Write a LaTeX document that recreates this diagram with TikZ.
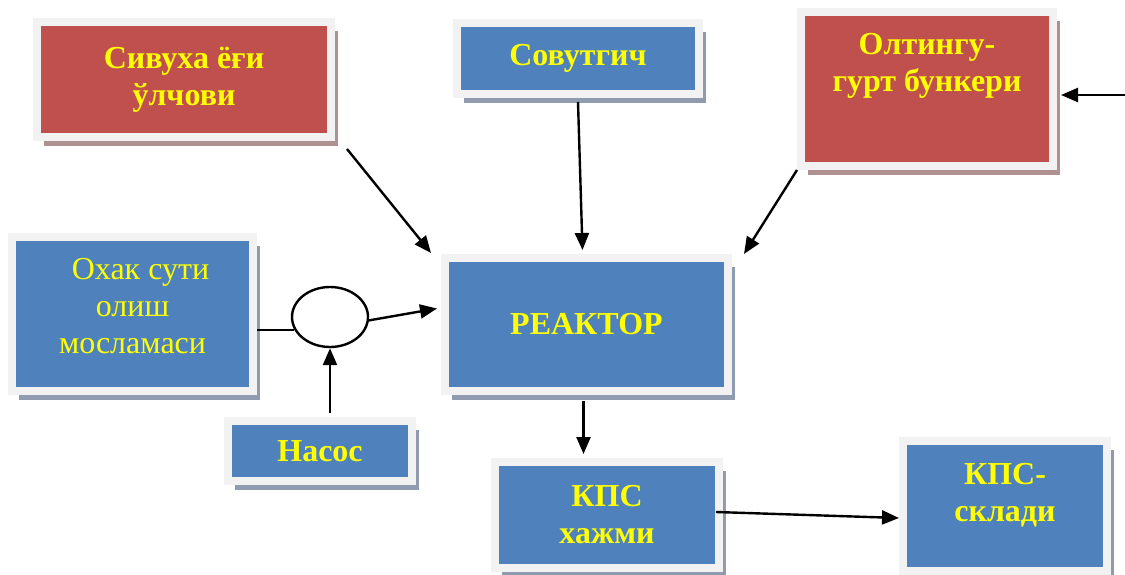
\documentclass[tikz,border=0pt]{standalone}
\usepackage{fontspec}
\setmainfont{Liberation Serif}
\usepackage{tikz}
\usetikzlibrary{arrows.meta,shadows,shapes.geometric}
\definecolor{boxred}{RGB}{192,80,77}
\definecolor{boxblue}{RGB}{79,129,189}
\definecolor{rim}{RGB}{242,242,242}
\definecolor{txt}{RGB}{255,255,0}
\definecolor{redshade}{RGB}{175,145,145}
\definecolor{blueshade}{RGB}{145,155,175}

\begin{document}
\begin{tikzpicture}
[x=1pt,y=-1pt,
box/.style={draw=rim,line width=8pt,text=txt,align=center,inner sep=0pt,font=\fontsize{32}{37}\selectfont\bfseries},
redbox/.style={box,fill=boxred,drop shadow={shadow xshift=7pt,shadow yshift=-9pt,fill=redshade,opacity=1}},
bluebox/.style={box,fill=boxblue,drop shadow={shadow xshift=7pt,shadow yshift=-9pt,fill=blueshade,opacity=1}},
arr/.style={-{Triangle[length=17pt,width=14pt]},line width=2.4pt},
link/.style={line width=2.4pt}]
\useasboundingbox (0,0) rectangle (1125,575);

\node[redbox,minimum width=294pt,minimum height=115pt] (siv) at (184,79.5) {Сивуха ёғи\\ўлчови};
\node[bluebox,minimum width=242pt,minimum height=71pt] (sov) at (578,58.5) {Совутгич};
\node[redbox,minimum width=252pt,minimum height=154pt,text height=24pt,text depth=18pt] (olt) at (927,89) {Олтингу-\\гурт бункери};

\node[bluebox,minimum width=241pt,minimum height=154pt,font=\fontsize{32}{37}\selectfont,text height=78pt,text depth=0pt] (ohak) at (132.5,314) {\hspace*{16pt}Охак сути\\олиш\\мосламаси};
\node[ellipse,draw,line width=2.4pt,minimum width=76pt,minimum height=60pt,inner sep=0pt] (ell) at (330,317) {};
\node[bluebox,minimum width=184pt,minimum height=60pt] (nasos) at (320,451) {Насос};

\node[bluebox,minimum width=283pt,minimum height=133pt] (reak) at (586.5,324.5) {РЕАКТОР};
\node[bluebox,minimum width=224pt,minimum height=106pt] (kpsh) at (607,515) {КПС\\хажми};
\node[bluebox,minimum width=204pt,minimum height=130pt,text height=40pt,text depth=10pt] (kpss) at (1005,506) {КПС-\\склади};

\coordinate (feed) at (1125,95);
\coordinate (oltin) at (feed -| olt.east);
\coordinate (pump) at (ell.south |- nasos.north);
\coordinate (drop) at ([xshift=-3pt]reak.south);
\coordinate (kin) at (drop |- kpsh.north);

\draw[arr] ([xshift=12pt,yshift=-8pt]siv.south east) -- ([xshift=-10pt,yshift=1pt]reak.north west);
\draw[arr] ([yshift=-4pt]sov.south) -- ([xshift=-4pt,yshift=4pt]reak.north);
\draw[arr] (olt.south west) -- ([xshift=12pt]reak.north east);
\draw[arr] (feed) -- ([xshift=4pt]oltin);

\draw[link] (ohak.east |- ell.200) -- (ell.200);
\draw[arr] (ell.-5) -- ([xshift=-4pt,yshift=16pt]reak.west);
\draw[arr] ([yshift=4pt]pump) -- (ell.south);

\draw[arr] ([yshift=-6pt]drop) -- ([yshift=4pt]kin);
\draw[arr] ([xshift=-7pt,yshift=3pt]kpsh.east) -- ([yshift=-12pt]kpss.west);
\end{tikzpicture}
\end{document}
